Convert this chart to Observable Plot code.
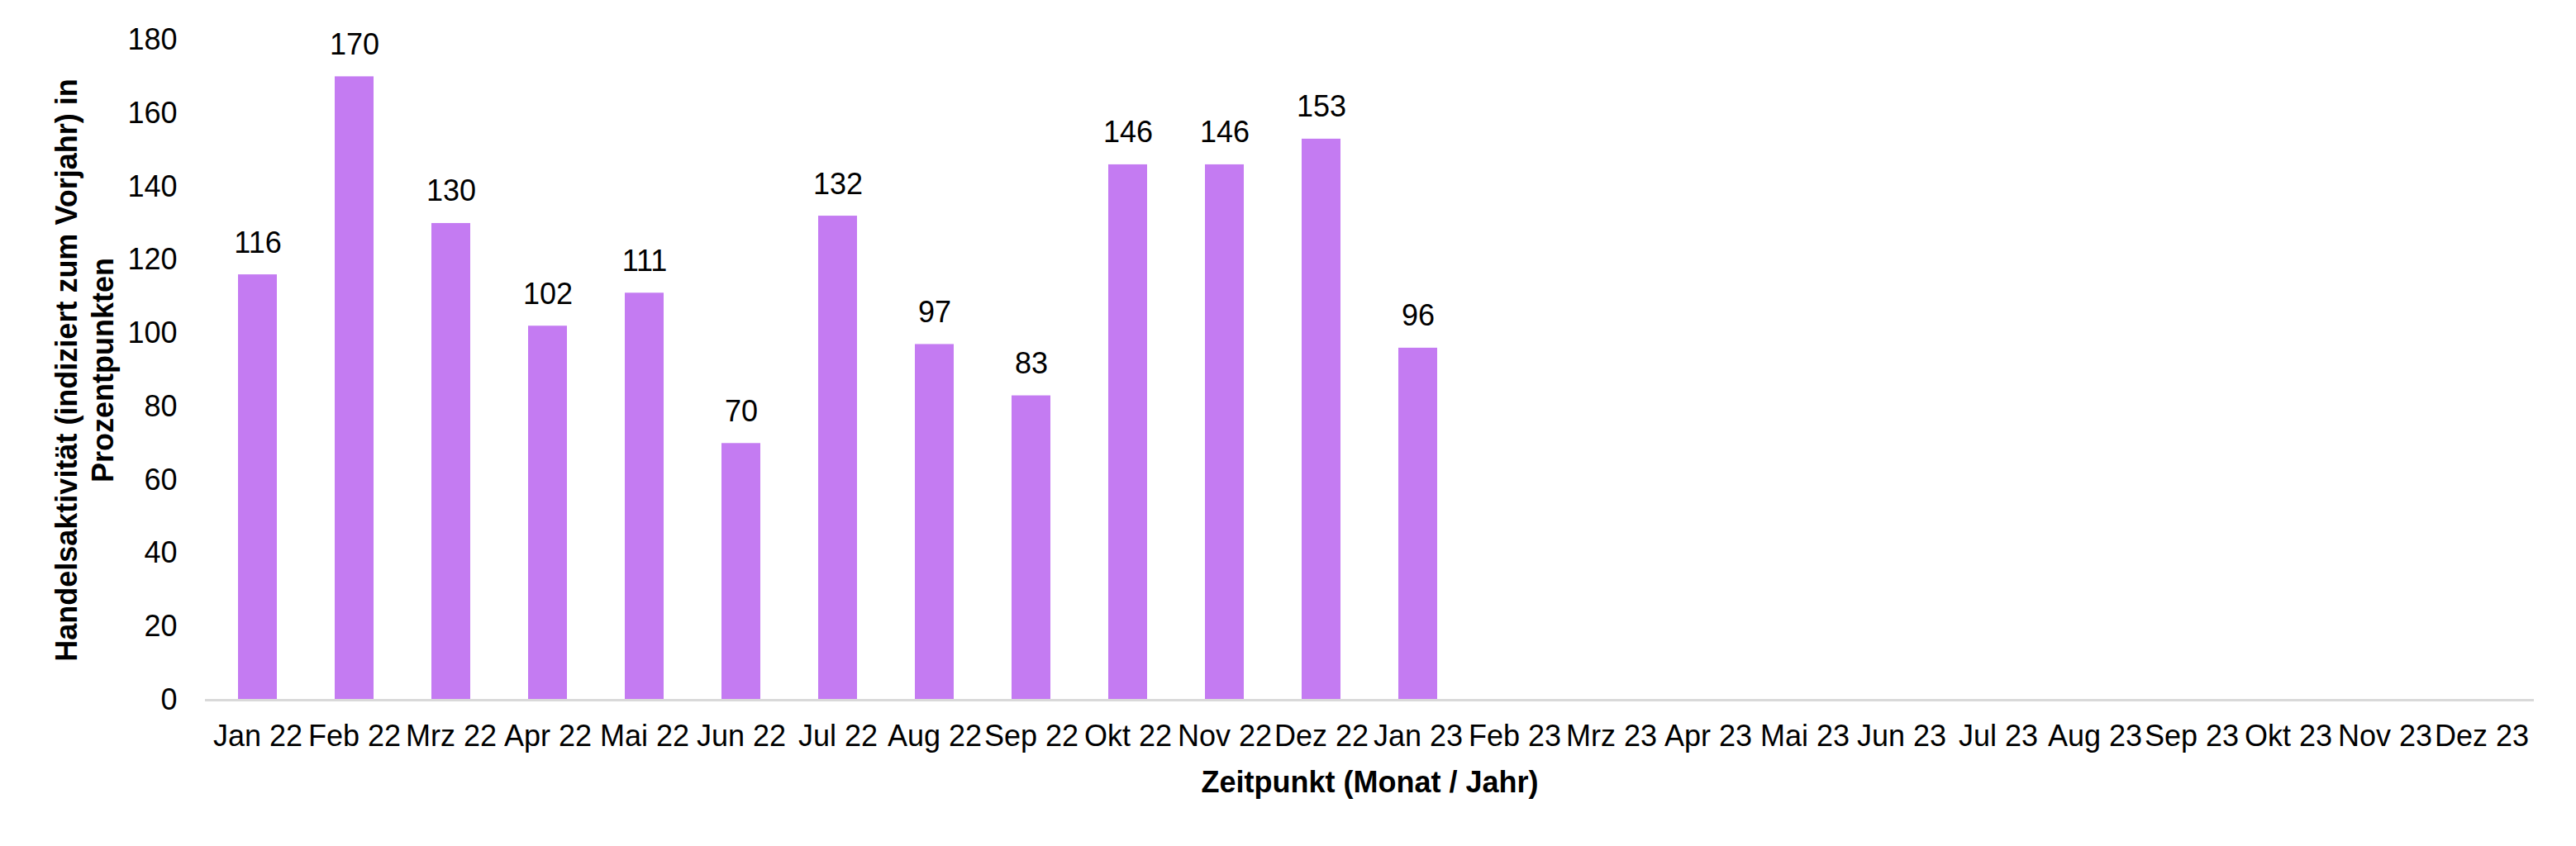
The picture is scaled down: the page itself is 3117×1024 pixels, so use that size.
<!DOCTYPE html>
<html>
<head>
<meta charset="utf-8">
<script src="https://cdn.jsdelivr.net/npm/d3@7"></script>
<script src="https://cdn.jsdelivr.net/npm/@observablehq/plot@0.6"></script>
<style>
  html, body { margin: 0; padding: 0; background: #ffffff; }
</style>
</head>
<body>
<div id="chart"></div>
<script>
const months = ["Jan 22","Feb 22","Mrz 22","Apr 22","Mai 22","Jun 22","Jul 22","Aug 22","Sep 22","Okt 22","Nov 22","Dez 22",
                "Jan 23","Feb 23","Mrz 23","Apr 23","Mai 23","Jun 23","Jul 23","Aug 23","Sep 23","Okt 23","Nov 23","Dez 23"];
const values = [116, 170, 130, 102, 111, 70, 132, 97, 83, 146, 146, 153, 96];
const yTicks = [0, 20, 40, 60, 80, 100, 120, 140, 160, 180];
const yTitle = "Handelsaktivität (indiziert zum Vorjahr) in\nProzentpunkten";
const xTitle = "Zeitpunkt (Monat / Jahr)";

const data = values.map((v, i) => ({month: months[i], value: v}));

const chart = Plot.plot({
  width: 3117,
  height: 1024,
  marginTop: 48,
  marginBottom: 177,
  marginLeft: 248,
  marginRight: 51,
  style: {fontSize: "36px", fontFamily: "'Liberation Sans', Arial, sans-serif", color: "#000", background: "#fff"},
  x: {domain: months, paddingInner: 0.6, paddingOuter: 0.3, label: null},
  y: {domain: [0, 180], label: null},
  marks: [
    Plot.axisY({ticks: yTicks, tickSize: 0, tickPadding: 34, label: null, fontSize: 36}),
    Plot.axisX({tickSize: 0, tickPadding: 30, label: null, fontSize: 36}),
    Plot.barY(data, {x: "month", y: "value", fill: "#c47bf2"}),
    Plot.ruleY([0], {stroke: "#d9d9d9", strokeWidth: 3}),
    Plot.text(data, {x: "month", y: "value", text: d => String(d.value), lineAnchor: "bottom", dy: -27, fontSize: 36, fill: "#000"}),
    Plot.text([xTitle], {frameAnchor: "bottom", lineAnchor: "bottom", dy: 111, fontWeight: "bold", fontSize: 36, fill: "#000"}),
    Plot.text([yTitle], {frameAnchor: "left", rotate: -90, textAnchor: "middle", lineAnchor: "middle", lineHeight: 1.22, dx: -148, fontWeight: "bold", fontSize: 36, fill: "#000"})
  ]
});
document.getElementById("chart").appendChild(chart);
</script>
</body>
</html>
